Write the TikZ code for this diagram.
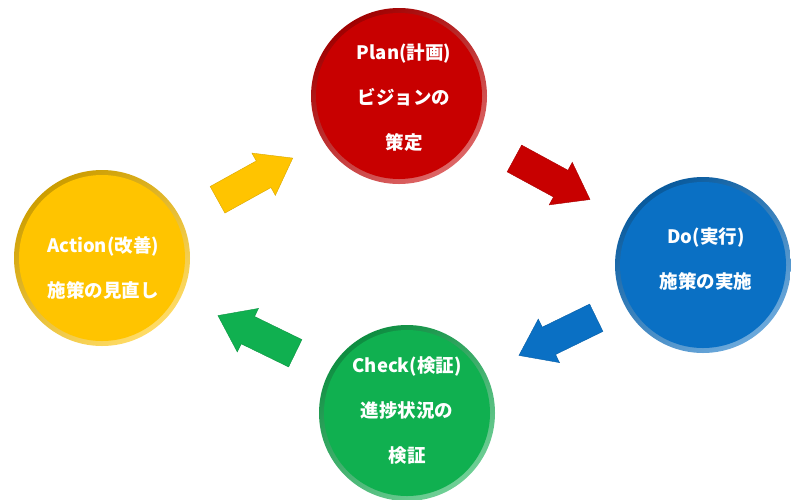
\documentclass[tikz,border=0pt]{standalone}
\usepackage{fontspec}
\newfontfamily\jpfont{Noto Sans CJK JP}
\usetikzlibrary{positioning, shapes.arrows}
\definecolor{planred}{HTML}{C80000}
\definecolor{doblue}{HTML}{0A70C4}
\definecolor{chkgreen}{HTML}{10B050}
\definecolor{actyellow}{HTML}{FFC400}

\tikzset{
  btn/.style={circle, minimum size=176pt, inner sep=0pt,
    top color=#1!80!black, bottom color=#1!60!white, shading angle=35,
    path picture={\fill[#1] (path picture bounding box.center) circle (83pt);}},
  txt/.style={text=white, font=\jpfont\bfseries\fontsize{18.5}{45}\selectfont, align=center},
  arr/.style={single arrow, fill=#1, draw=#1!85!black, minimum height=86pt,
    inner xsep=0pt, inner ysep=15pt, single arrow head extend=9pt, single arrow tip angle=72}
}

\begin{document}
\begin{tikzpicture}[x=1pt, y=-1pt]
  \useasboundingbox (0,0) rectangle (791,499);
  % circles
  \node[btn=planred] (plan) at (399,96) {};
  \node[btn=doblue] (do) at (703,265) {};
  \node[btn=chkgreen] (check) at (407,413) {};
  \node[btn=actyellow] (act) at (102,258) {};
  % texts
  \node[txt] (plant) at ([xshift=5pt, yshift=-2pt]plan) {Plan(計画)\\ビジョンの\\策定};
  \node[txt] (dot) at ([xshift=3pt, yshift=6pt]do) {Do(実行)\\施策の実施};
  \node[txt] (checkt) at ([yshift=2pt]check) {Check(検証)\\進捗状況の\\検証};
  \node[txt] (actt) at ([xshift=1pt, yshift=-10pt]act) {Action(改善)\\施策の見直し};
  % arrows
  \node[arr=actyellow, rotate=29] (a1) at (246,184) {};
  \node[arr=planred, rotate=-28.5] (a2) at (543,174) {};
  \node[arr=doblue, rotate=206] (a3) at (567,332) {};
  \node[arr=chkgreen, rotate=154] (a4) at (266,339) {};
\end{tikzpicture}
\end{document}
